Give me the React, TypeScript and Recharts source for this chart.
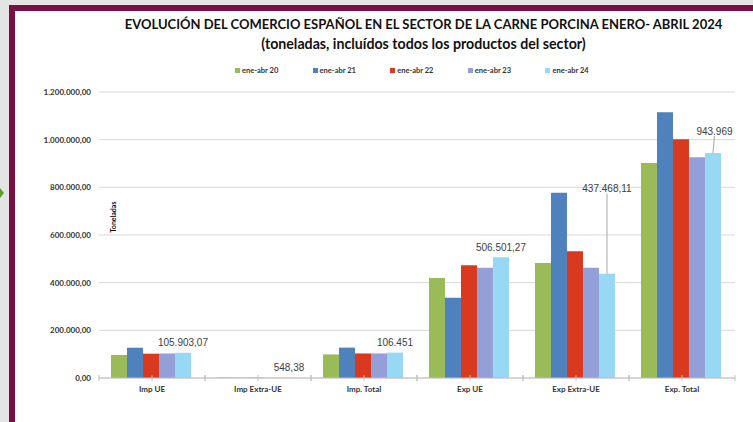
import React from 'react';
import { BarChart, Bar, XAxis, YAxis, CartesianGrid, LabelList } from 'recharts';

const categories = ['Imp UE', 'Imp Extra-UE', 'Imp. Total', 'Exp UE', 'Exp Extra-UE', 'Exp. Total'];
const seriesNames = ['ene-abr 20', 'ene-abr 21', 'ene-abr 22', 'ene-abr 23', 'ene-abr 24'];
const eneAbr20 = [96500, 2000, 99000, 419600, 482500, 902000];
const eneAbr21 = [127000, 600, 127500, 337000, 777600, 1114800];
const eneAbr22 = [102000, 900, 103000, 473000, 531600, 1001500];
const eneAbr23 = [103000, 400, 103000, 463000, 463000, 926000];
const eneAbr24 = [105903.07, 548.38, 106451, 506501.27, 437468.11, 943969];
const labels24 = ['105.903,07', '548,38', '106.451', '506.501,27', '437.468,11', '943.969'];
const yTicks = [0, 200000, 400000, 600000, 800000, 1000000, 1200000];

const colors = ['#9bbb59', '#4f81bd', '#d9391f', '#949fd8', '#97d9f5'];
const keys = ['s20', 's21', 's22', 's23', 's24'];

const data = categories.map((name, i) => ({
  name,
  s20: eneAbr20[i],
  s21: eneAbr21[i],
  s22: eneAbr22[i],
  s23: eneAbr23[i],
  s24: eneAbr24[i],
  label: labels24[i],
}));

const FONT = 'Lato, "Liberation Sans", sans-serif';

// extra lift / sideways nudge of the callout labels (leader line drawn when lifted)
const LIFT = [0, 0, 0, 0, 75, 12];
const SHIFT = [0, 0, 0, 0, 0, 1.5];

const fmtTick = (v: number) => String(v).replace(/\B(?=(\d{3})+(?!\d))/g, '.') + ',00';

function ValueLabel(props: any) {
  const { x, y, width, index, value } = props;
  const cx = x + width / 2;
  const lift = LIFT[index] || 0;
  const ty = y - 10 - lift;
  return (
    <g>
      {lift > 0 && (
        <line x1={cx + SHIFT[index]} y1={ty + 5} x2={cx} y2={y} stroke="#a6a6a6" strokeWidth={1} />
      )}
      <text
        x={cx + SHIFT[index]}
        y={ty}
        dy={3.5}
        textAnchor="middle"
        fontSize={10}
        fill="#404040"
        fontFamily='"Liberation Sans", Arial, sans-serif'
      >
        {value}
      </text>
    </g>
  );
}

// category label plus the small cross marks at the centre and both band edges
function CatTick(props: any) {
  const { x, y, payload } = props;
  const half = payload && payload.offset ? payload.offset : 0;
  const marks = half ? [x - half, x, x + half] : [x];
  return (
    <g>
      {marks.map((mx, i) => (
        <line key={i} x1={mx} x2={mx} y1={y - 3} y2={y + 3} stroke="#bfbfbf" strokeWidth={1} />
      ))}
      <text x={x} y={y} dy={14} textAnchor="middle" fontSize={8} fontWeight={700} fill="#333" fontFamily={FONT}>
        {payload.value}
      </text>
    </g>
  );
}

function ValTick(props: any) {
  const { x, y, payload } = props;
  return (
    <text x={x} y={y} dy={3} textAnchor="end" fontSize={8} fontWeight={700} fill="#333" fontFamily={FONT}>
      {fmtTick(payload.value)}
    </text>
  );
}

export default function App() {
  return (
    <div style={{ position: 'fixed', left: 0, top: 0, width: 753, height: 422, background: '#e4e4e4', overflow: 'hidden' }}>
      <svg width={4} height={12} style={{ position: 'absolute', left: 0, top: 187 }}>
        <polygon points="0,1 4,6 0,11" fill="#5c9e2a" />
      </svg>
      <div
        style={{
          position: 'absolute',
          left: 9,
          top: 5,
          right: 0,
          bottom: 0,
          background: '#fff',
          borderLeft: '6px solid #7b0f43',
          borderTop: '6px solid #7b0f43',
        }}
      />
      <div
        style={{
          position: 'absolute',
          left: 0,
          width: 847,
          top: 14,
          textAlign: 'center',
          fontFamily: FONT,
          fontWeight: 700,
          lineHeight: '20px',
          color: '#111',
        }}
      >
        <div style={{ fontSize: 13 }}>EVOLUCIÓN DEL COMERCIO ESPAÑOL EN EL SECTOR DE LA CARNE PORCINA ENERO- ABRIL 2024</div>
        <div style={{ fontSize: 14.2 }}>(toneladas, incluídos todos los productos del sector)</div>
      </div>
      {seriesNames.map((n, i) => (
        <div
          key={n}
          style={{
            position: 'absolute',
            left: 235 + i * 77.6,
            top: 65,
            height: 10,
            display: 'flex',
            alignItems: 'center',
            fontFamily: FONT,
            fontWeight: 700,
            fontSize: 7.5,
            color: '#333',
            whiteSpace: 'nowrap',
          }}
        >
          <span style={{ width: 5, height: 5, background: colors[i], marginRight: 2, display: 'inline-block' }} />
          {n}
        </div>
      ))}
      <div
        style={{
          position: 'absolute',
          left: 113 - 25,
          top: 217 - 5,
          width: 50,
          height: 10,
          lineHeight: '10px',
          textAlign: 'center',
          transform: 'rotate(-90deg)',
          fontFamily: FONT,
          fontWeight: 700,
          fontSize: 7,
          color: '#111',
        }}
      >
        Toneladas
      </div>
      <div style={{ position: 'absolute', left: 0, top: 0 }}>
        <BarChart
          width={753}
          height={422}
          data={data}
          margin={{ top: 92, right: 18, bottom: 0, left: 0 }}
          barCategoryGap="11.3%"
          barGap={0}
        >
          <CartesianGrid vertical={false} stroke="#d9d9d9" />
          <XAxis
            dataKey="name"
            height={44}
            interval={0}
            axisLine={{ stroke: '#bfbfbf' }}
            tickLine={false}
            tickSize={0}
            tickMargin={0}
            tick={<CatTick />}
          />
          <YAxis
            width={99}
            domain={[0, 1200000]}
            ticks={yTicks}
            interval={0}
            axisLine={false}
            tickLine={false}
            tick={<ValTick />}
          />
          {keys.map((k, i) => (
            <Bar key={k} dataKey={k} name={seriesNames[i]} fill={colors[i]} isAnimationActive={false}>
              {i === 4 && <LabelList dataKey="label" content={<ValueLabel />} />}
            </Bar>
          ))}
        </BarChart>
      </div>
    </div>
  );
}
